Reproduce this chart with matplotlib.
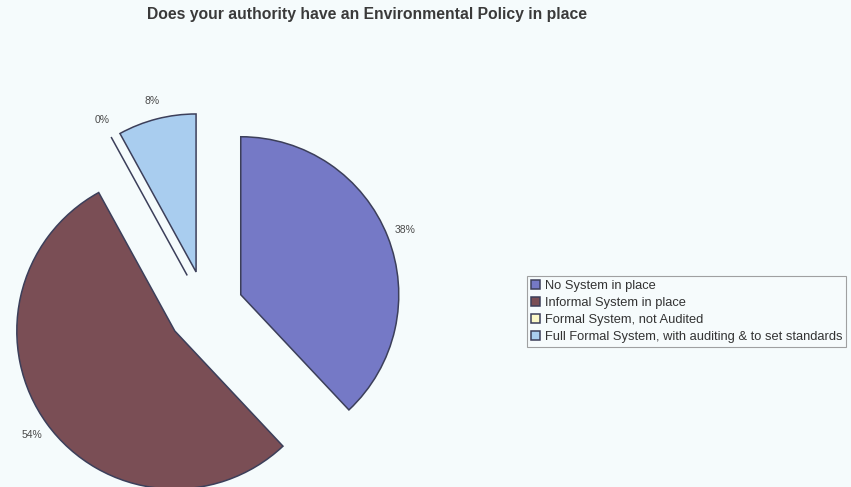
import matplotlib.pyplot as plt

# Environmental policy survey results (share of authorities, %)
categories = ['No System in place',
              'Informal System in place',
              'Formal System, not Audited',
              'Full Formal System, with auditing & to set standards']
shares = [38, 54, 0, 8]
colours = ['#7579c6', '#7a4e55', '#fbf8c8', '#a9cdef']

plt.rcParams['font.family'] = ['Liberation Sans', 'DejaVu Sans']

fig = plt.figure(figsize=(8.51, 4.87), dpi=100, facecolor='#f5fbfc')
ax = fig.add_axes([0, 0, 1, 1])
ax.set_facecolor('#f5fbfc')

r = 158
# explode is given in data units, so scale it by the radius
wedges, texts, pcts = ax.pie(shares, colors=colours, startangle=90, counterclock=False,
                             explode=[0.24 * r] * len(shares), center=(205.5, -308.7), radius=r,
                             autopct='%1.0f%%', pctdistance=1.12, frame=True,
                             wedgeprops=dict(edgecolor='#3c3f5a', linewidth=1.1),
                             textprops=dict(fontsize=7.5, color='#4a4a4a'))

ax.set_xlim(0, 851)
ax.set_ylim(-487, 0)
ax.set_aspect('equal')
ax.axis('off')

fig.text(367 / 851, 1 - 15 / 487, 'Does your authority have an Environmental Policy in place',
         ha='center', va='center', fontsize=11.3, fontweight='bold', color='#3a3a3a')

leg = fig.legend(wedges, categories, loc='upper left', bbox_to_anchor=(527 / 851, 1 - 276 / 487),
                 fontsize=9.3, frameon=True, fancybox=False, handlelength=0.7, handleheight=0.7,
                 handletextpad=0.4, labelspacing=0.38, borderpad=0.3, borderaxespad=0)
leg.get_frame().set_edgecolor('#8a8a8a')
leg.get_frame().set_linewidth(0.8)
leg.get_frame().set_facecolor('#f7fcfd')
for t in leg.get_texts():
    t.set_color('#333333')

plt.savefig('out.png', dpi=100, facecolor=fig.get_facecolor())
